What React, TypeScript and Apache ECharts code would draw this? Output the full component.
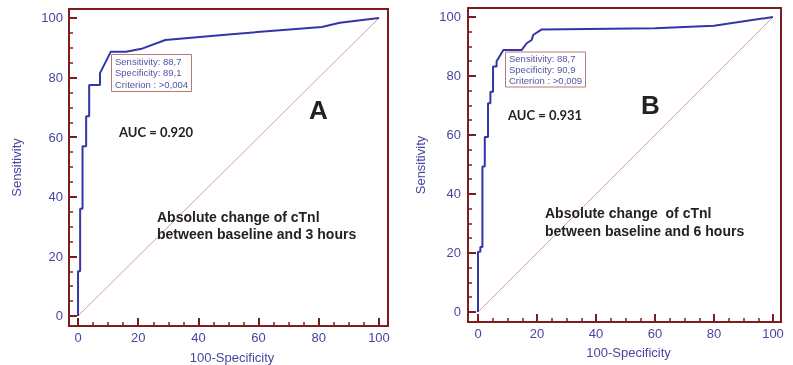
import React, { useEffect, useRef } from "react";
import * as echarts from "echarts";

// Panel A: absolute change of cTnI baseline -> 3 hours
const rocA_fpr = [0, 0, 0.7, 0.7, 1.5, 1.5, 2.7, 2.7, 3.7, 3.7, 7.3, 7.3, 10.9, 16, 21.5, 29, 50, 81, 87, 100];
const rocA_sens = [0, 15, 15, 36, 36, 57, 57, 67, 67, 77.5, 77.5, 81.5, 88.7, 88.7, 89.8, 92.6, 94.5, 97, 98.4, 100];
// Panel B: absolute change of cTnI baseline -> 6 hours
const rocB_fpr = [0, 0, 0.8, 0.8, 1.5, 1.5, 2.3, 2.3, 3.4, 3.4, 4.2, 4.2, 5.1, 5.1, 6.3, 6.3, 8.6, 14.8, 16.5, 18.2, 18.7, 21.6, 60, 80, 100];
const rocB_sens = [0, 20.4, 20.4, 22, 22, 49.3, 49.3, 59.3, 59.3, 70.8, 70.8, 74.7, 74.7, 83.2, 83.2, 85, 88.8, 88.8, 91.1, 92.2, 93.9, 95.8, 96.2, 97, 100];
const diagX = [0, 100];
const diagY = [0, 100];

const majorTicks = [0, 20, 40, 60, 80, 100];
const minorTicks = [5, 10, 15, 25, 30, 35, 45, 50, 55, 65, 70, 75, 85, 90, 95];

const boxA = ["Sensitivity: 88,7", "Specificity: 89,1", "Criterion : >0,004"];
const boxB = ["Sensitivity: 88,7", "Specificity: 90,9", "Criterion : >0,009"];
const titleA = ["Absolute change of cTnl", "between baseline and 3 hours"];
const titleB = ["Absolute change  of cTnl", "between baseline and 6 hours"];
const aucA = "AUC = 0.920";
const aucB = "AUC = 0.931";
const xName = "100-Specificity";
const yName = "Sensitivity";

const RED = "#7d1d1d";
const BLUE = "#4646a0";
const LINE = "#3535a8";
const DIAG = "#dc9c9c";
const FONT = "'Liberation Sans', Arial, sans-serif";

const zip = (a: number[], b: number[]) => a.map((v, i) => [v, b[i]]);

function axis(kind: "x" | "y", gridIndex: number, min: number, max: number, major: boolean, opts: any = {}) {
  const base: any = {
    type: "value", gridIndex, min, max,
    position: kind === "x" ? "bottom" : "left",
    axisLine: { show: major, onZero: false, lineStyle: { color: RED, width: 2 } },
    axisTick: {
      show: true, inside: true, length: major ? 8 : 4,
      customValues: major ? majorTicks : minorTicks,
      lineStyle: { color: RED, width: major ? 2 : 1.5 },
    },
    splitLine: { show: false },
    axisLabel: major
      ? { show: true, customValues: majorTicks, color: BLUE, fontSize: 13, fontFamily: FONT, margin: opts.margin }
      : { show: false },
  };
  if (major) {
    base.name = kind === "x" ? xName : yName;
    base.nameLocation = "middle";
    base.nameGap = opts.nameGap;
    if (kind === "y") base.nameRotate = 90;
    base.nameTextStyle = { color: BLUE, fontSize: 13, fontFamily: FONT, padding: opts.namePad || 0 };
  }
  return base;
}

function ttl(left: number, top: number, text: string, ts: any, extra: any = {}) {
  return { left, top, text, padding: 0, itemGap: 0, textStyle: { fontFamily: FONT, color: "#222", ...ts }, ...extra };
}

export default function App() {
  const ref = useRef<HTMLDivElement>(null);
  useEffect(() => {
    if (!ref.current) return;
    const chart = echarts.init(ref.current, null, { renderer: "svg" });
    const boxStyle = { fontSize: 9.5, fontWeight: "normal", color: "#5454a4" };
    chart.setOption({
      animation: false,
      title: [
        ttl(111, 54, boxA.join("\n"), { ...boxStyle, lineHeight: 11.2 }, { padding: [2, 4, 2, 4], borderColor: "#b87878", borderWidth: 1, backgroundColor: "#fff" }),
        ttl(505, 52, boxB.join("\n"), { ...boxStyle, lineHeight: 10.7 }, { padding: [1.5, 4, 1.5, 4], borderColor: "#b87878", borderWidth: 1, backgroundColor: "#fff" }),
        ttl(119, 124, aucA, { fontSize: 13, fontWeight: "bold", fontFamily: "Lato, sans-serif", lineHeight: 16 }),
        ttl(508, 107, aucB, { fontSize: 13, fontWeight: "bold", fontFamily: "Lato, sans-serif", lineHeight: 16 }),
        ttl(309, 95, "A", { fontSize: 26, fontWeight: "bold", lineHeight: 30 }),
        ttl(641, 90, "B", { fontSize: 26, fontWeight: "bold", lineHeight: 30 }),
        ttl(157, 208.5, titleA.join("\n"), { fontSize: 14, fontWeight: "bold", lineHeight: 17 }),
        ttl(545, 204, titleB.join("\n"), { fontSize: 14, fontWeight: "bold", lineHeight: 18 }),
      ],
      grid: [
        { left: 69, top: 9, width: 319, height: 317, show: true, borderColor: RED, borderWidth: 2, containLabel: false, outerBoundsMode: "none" },
        { left: 468, top: 8, width: 313, height: 314, show: true, borderColor: RED, borderWidth: 2, containLabel: false, outerBoundsMode: "none" },
      ],
      xAxis: [
        axis("x", 0, -3, 103, true, { margin: 5, nameGap: 25, namePad: [0, 0, 0, 7] }),
        axis("x", 0, -3, 103, false),
        axis("x", 1, -3.39, 102.71, true, { margin: 5, nameGap: 24, namePad: [0, 0, 0, 8] }),
        axis("x", 1, -3.39, 102.71, false),
      ],
      yAxis: [
        axis("y", 0, -3.36, 103.02, true, { margin: 6, nameGap: 46 }),
        axis("y", 0, -3.36, 103.02, false),
        axis("y", 1, -3.39, 103.05, true, { margin: 7, nameGap: 41 }),
        axis("y", 1, -3.39, 103.05, false),
      ],
      series: [
        { type: "line", xAxisIndex: 0, yAxisIndex: 0, data: zip(diagX, diagY), symbol: "none", lineStyle: { color: DIAG, width: 1 }, z: 2 },
        { type: "line", xAxisIndex: 0, yAxisIndex: 0, data: zip(rocA_fpr, rocA_sens), symbol: "none", lineStyle: { color: LINE, width: 2 }, z: 3 },
        { type: "line", xAxisIndex: 2, yAxisIndex: 2, data: zip(diagX, diagY), symbol: "none", lineStyle: { color: DIAG, width: 1 }, z: 2 },
        { type: "line", xAxisIndex: 2, yAxisIndex: 2, data: zip(rocB_fpr, rocB_sens), symbol: "none", lineStyle: { color: LINE, width: 2 }, z: 3 },
      ],
    });
    return () => chart.dispose();
  }, []);
  return <div ref={ref} style={{ position: "fixed", left: 0, top: 0, width: 793, height: 365 }} />;
}
